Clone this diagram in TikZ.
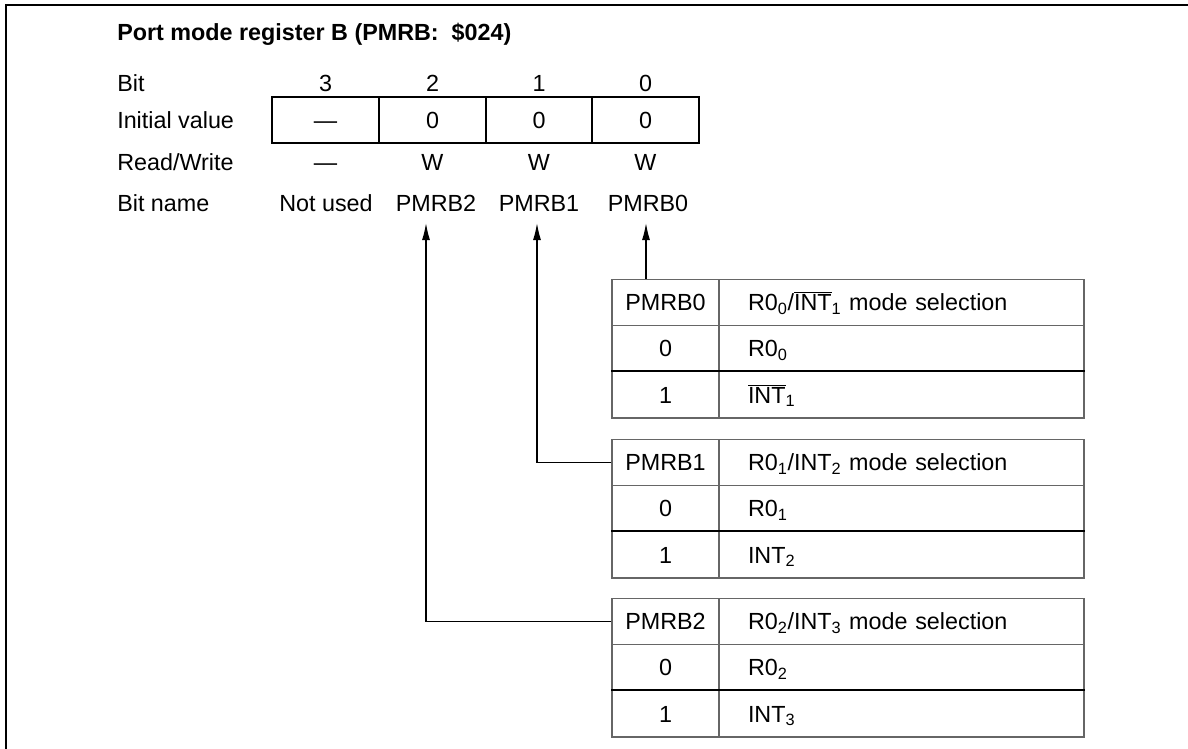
\documentclass[tikz,border=0pt]{standalone}
\usepackage{fontspec}
\setmainfont{Liberation Sans}
\usetikzlibrary{arrows.meta}
\newcommand{\ovl}[1]{$\overline{\mbox{#1}}$}

\begin{document}
\begin{tikzpicture}[x=0.75pt,y=-0.75pt,
    txt/.style={inner sep=0pt,text height=12.6pt,text depth=0pt,font=\fontsize{17.5}{21}\selectfont},
    lbl/.style={txt,anchor=west},
    reg/.style={txt,draw,line width=1.2pt,minimum width=80.25pt,minimum height=34.5pt},
    keycell/.style={txt,draw=black!60,line width=0.8pt,minimum width=80.25pt,minimum height=34.75pt},
    desccell/.style={txt,draw=black!60,line width=0.8pt,minimum width=273.75pt,minimum height=34.75pt,text width=230.25pt,align=left,inner xsep=21.75pt},
    sepline/.style={line width=1.1pt},
    arrow/.style={line width=1pt,-{Latex[length=12.75pt,width=6pt]}}]
        \useasboundingbox(0,0)rectangle(1188,749);
        \draw[line width=1.5pt](6,749)--(6,5)--(1188,5);

        \node[lbl,font=\fontsize{17.5}{21}\selectfont\bfseries](title)at(117,32){Port mode register B (PMRB:\ \ \$024)};
        \node[lbl](bit)at(117,83){Bit};
        \node[lbl](init)at(117,120){Initial value};
        \node[lbl](rw)at(117,162){Read/Write};
        \node[lbl](name)at(117,203){Bit name};

        % register bits 3..0
        \node[txt](b3)at(325.5,83){3};
        \node[txt](b2)at(432.5,83){2};
        \node[txt](b1)at(539,83){1};
        \node[txt](b0)at(645.5,83){0};
        \node[reg](r3)at(325.5,120){\textemdash};
        \node[reg](r2)at(432.5,120){0};
        \node[reg](r1)at(539,120){0};
        \node[reg](r0)at(645.5,120){0};
        \node[txt](w3)at(325.5,162){\textemdash};
        \node[txt](w2)at(432.5,162){W};
        \node[txt](w1)at(539,162){W};
        \node[txt](w0)at(645.5,162){W};
        \node[txt](n3)at(326,203){Not used};
        \node[txt](n2)at(436,203){PMRB2};
        \node[txt](n1)at(539,203){PMRB1};
        \node[txt](n0)at(648,203){PMRB0};

        % PMRB0 table
        \node[keycell](t0h)at(665.5,302.2){PMRB0};
        \node[desccell](t0hs)at(901.5,302.2){R0\textsubscript{0}/\ovl{INT}\textsubscript{1} mode selection};
        \node[keycell](t0a)at(665.5,348.5){0};
        \node[desccell](t0as)at(901.5,348.5){R0\textsubscript{0}};
        \node[keycell](t0b)at(665.5,394.8){1};
        \node[desccell](t0bs)at(901.5,394.8){\ovl{INT}\textsubscript{1}};
        \draw[sepline](t0b.north west)--(t0bs.north east);

        % PMRB1 table
        \node[keycell](t1h)at(665.5,462.2){PMRB1};
        \node[desccell](t1hs)at(901.5,462.2){R0\textsubscript{1}/INT\textsubscript{2} mode selection};
        \node[keycell](t1a)at(665.5,508.5){0};
        \node[desccell](t1as)at(901.5,508.5){R0\textsubscript{1}};
        \node[keycell](t1b)at(665.5,554.8){1};
        \node[desccell](t1bs)at(901.5,554.8){INT\textsubscript{2}};
        \draw[sepline](t1b.north west)--(t1bs.north east);

        % PMRB2 table
        \node[keycell](t2h)at(665.5,621.2){PMRB2};
        \node[desccell](t2hs)at(901.5,621.2){R0\textsubscript{2}/INT\textsubscript{3} mode selection};
        \node[keycell](t2a)at(665.5,667.5){0};
        \node[desccell](t2as)at(901.5,667.5){R0\textsubscript{2}};
        \node[keycell](t2b)at(665.5,713.8){1};
        \node[desccell](t2bs)at(901.5,713.8){INT\textsubscript{3}};
        \draw[sepline](t2b.north west)--(t2bs.north east);

        \coordinate(a2)at(426,223);
        \coordinate(a1)at(537,223);
        \coordinate(a0)at(646,223);
        \draw[arrow](t0h.north-|a0)--(a0);
        \draw[arrow](t1h.west)-|(a1);
        \draw[arrow](t2h.west)-|(a2);
    \end{tikzpicture}
\end{document}
